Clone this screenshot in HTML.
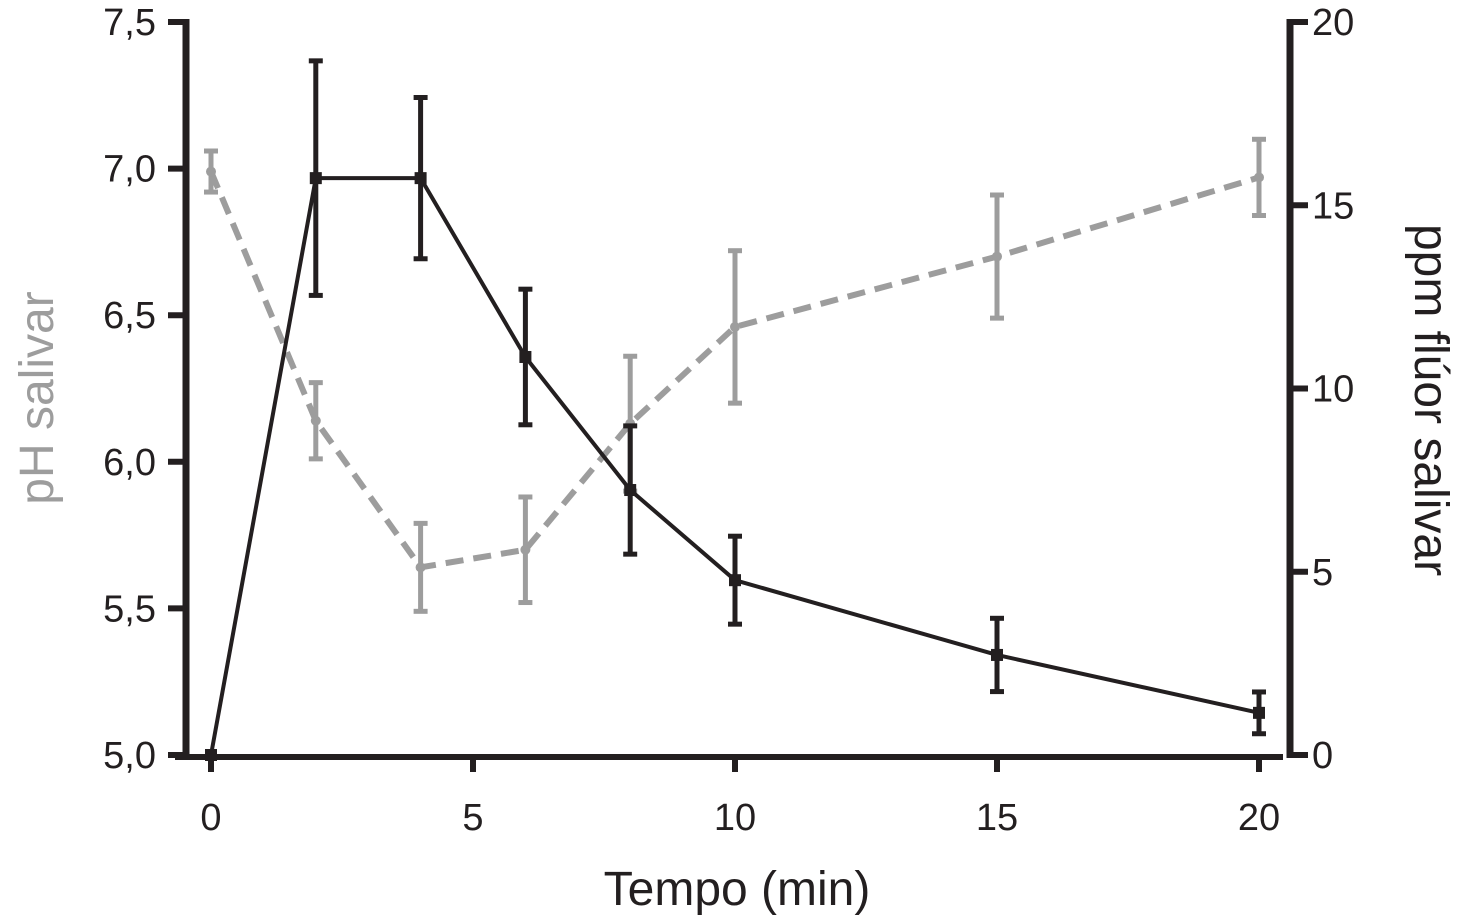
<!DOCTYPE html>
<html><head><meta charset="utf-8"><style>
html,body{margin:0;padding:0;background:#fff;}
svg{display:block;font-family:"Liberation Sans",Arial,sans-serif;}
</style></head><body>
<svg id="chart" width="1464" height="921" viewBox="0 0 1464 921">
<g id="axes"></g>
<g id="marks"></g>
</svg>
<script>
const times = [0, 2, 4, 6, 8, 10, 15, 20];
const phValues = [6.99, 6.14, 5.64, 5.70, 6.13, 6.46, 6.70, 6.97];
const phErrors = [0.07, 0.13, 0.15, 0.18, 0.23, 0.26, 0.21, 0.13];
const fluorValues = [0, 15.74, 15.74, 10.86, 7.23, 4.77, 2.73, 1.15];
const fluorErrors = [0, 3.2, 2.2, 1.85, 1.75, 1.2, 1.0, 0.57];
const xTicks = [0, 5, 10, 15, 20];
const leftTicks = [5.0, 5.5, 6.0, 6.5, 7.0, 7.5];
const rightTicks = [0, 5, 10, 15, 20];

const NS = "http://www.w3.org/2000/svg";
const x = t => 211 + (t / 20) * (1259 - 211);
const yL = v => 755 - (v - 5) / 2.5 * (755 - 22);
const yR = v => 755 - v / 20 * (755 - 22);
function mk(tag, attrs, parent) {
  const e = document.createElementNS(NS, tag);
  for (const k in attrs) e.setAttribute(k, attrs[k]);
  parent.appendChild(e);
  return e;
}
const axes = document.getElementById('axes');
const marks = document.getElementById('marks');

let el;
el = mk('line', {x1:186, y1:19, x2:186, y2:758, stroke:'#231f20', 'stroke-width':7}, axes);


el = mk('line', {x1:1290, y1:19, x2:1290, y2:758, stroke:'#231f20', 'stroke-width':7}, axes);


el = mk('line', {x1:175, y1:757, x2:1283, y2:757, stroke:'#231f20', 'stroke-width':6}, axes);



leftTicks.forEach(v => {
  const y = yL(v);
  const tk = mk('line', {x1:168, y1:y, x2:186, y2:y, stroke:'#231f20', 'stroke-width':6}, axes);
  
  
  const tx = mk('text', {x:156, y:y+13, 'text-anchor':'end', 'font-size':38, fill:'#231f20'}, axes);
  tx.textContent = v.toFixed(1).replace('.', ',');
  
  
});
rightTicks.forEach(v => {
  const y = yR(v);
  const tk = mk('line', {x1:1290, y1:y, x2:1308, y2:y, stroke:'#231f20', 'stroke-width':6}, axes);
  
  
  const tx = mk('text', {x:1312, y:y+13, 'text-anchor':'start', 'font-size':38, fill:'#231f20'}, axes);
  tx.textContent = String(v);
  
  
});
xTicks.forEach(t => {
  const xx = x(t);
  const tk = mk('line', {x1:xx, y1:757, x2:xx, y2:772, stroke:'#231f20', 'stroke-width':6}, axes);
  
  
  const tx = mk('text', {x:xx, y:830, 'text-anchor':'middle', 'font-size':38, fill:'#231f20'}, axes);
  tx.textContent = String(t);
  
  
});
el = mk('text', {x:737, y:905, 'text-anchor':'middle', 'font-size':48, fill:'#231f20'}, axes);
el.textContent = 'Tempo (min)';


el = mk('text', {x:0, y:0, 'text-anchor':'middle', 'font-size':48, fill:'#9d9d9d', transform:'translate(53,398) rotate(-90)'}, axes);
el.textContent = 'pH salivar';


el = mk('text', {x:0, y:0, 'text-anchor':'middle', 'font-size':48, fill:'#231f20', transform:'translate(1415,400) rotate(90)'}, axes);
el.textContent = 'ppm flúor salivar';



const gray = '#9d9d9d';
phValues.forEach((v, i) => {
  const xx = x(times[i]), e = phErrors[i];
  const g = mk('g', {}, marks);
  
  
  mk('line', {x1:xx, y1:yL(v+e), x2:xx, y2:yL(v-e), stroke:gray, 'stroke-width':5}, g);
  mk('line', {x1:xx-7, y1:yL(v+e), x2:xx+7, y2:yL(v+e), stroke:gray, 'stroke-width':5}, g);
  mk('line', {x1:xx-7, y1:yL(v-e), x2:xx+7, y2:yL(v-e), stroke:gray, 'stroke-width':5}, g);
});
el = mk('polyline', {points: phValues.map((v, i) => x(times[i]) + ',' + yL(v)).join(' '), fill:'none', stroke:gray, 'stroke-width':6, 'stroke-dasharray':'18,10'}, marks);


phValues.forEach((v, i) => {
  const p = mk('circle', {cx:x(times[i]), cy:yL(v), r:5, fill:gray}, marks);
  
  
});

const black = '#231f20';
el = mk('polyline', {points: fluorValues.map((v, i) => x(times[i]) + ',' + yR(v)).join(' '), fill:'none', stroke:black, 'stroke-width':4}, marks);


fluorValues.forEach((v, i) => {
  const xx = x(times[i]), e = fluorErrors[i];
  const g = mk('g', {}, marks);
  
  
  if (e > 0) {
    mk('line', {x1:xx, y1:yR(v+e), x2:xx, y2:yR(v-e), stroke:black, 'stroke-width':5}, g);
    mk('line', {x1:xx-7, y1:yR(v+e), x2:xx+7, y2:yR(v+e), stroke:black, 'stroke-width':5}, g);
    mk('line', {x1:xx-7, y1:yR(v-e), x2:xx+7, y2:yR(v-e), stroke:black, 'stroke-width':5}, g);
  }
  const p = mk('rect', {x:xx-6, y:yR(v)-6, width:12, height:12, fill:black}, marks);
  
  
});
</script>
</body></html>
